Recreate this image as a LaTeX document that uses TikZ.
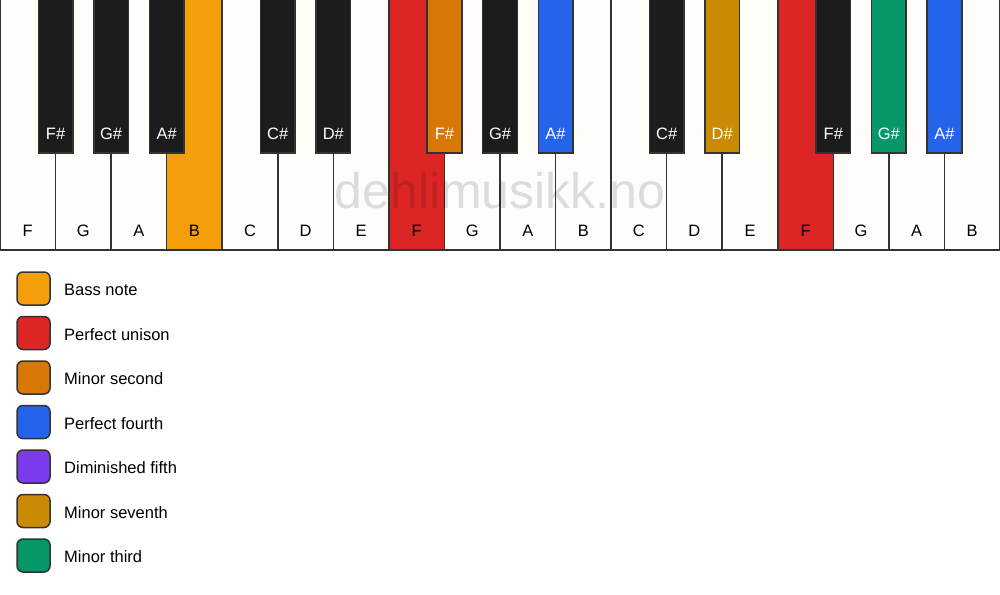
\documentclass[tikz,border=0pt]{standalone}
\usepackage{fontspec}
\setmainfont{Liberation Sans}
\definecolor{wkey}{HTML}{FFFDF9}
\definecolor{bkey}{HTML}{1C1C1C}
\definecolor{edge}{HTML}{333333}
\definecolor{cbass}{HTML}{F59E0B}
\definecolor{cuni}{HTML}{DC2626}
\definecolor{cmin2}{HTML}{D97706}
\definecolor{cp4}{HTML}{2563EB}
\definecolor{cdim5}{HTML}{7C3AED}
\definecolor{cmin7}{HTML}{CA8A04}
\definecolor{cmin3}{HTML}{059669}
\tikzset{
  whitekey/.style={draw=edge, line width=1.5pt, fill=wkey},
  blackkey/.style={draw=edge, line width=1.5pt, fill=bkey},
  wlabel/.style={font=\fontsize{16.5}{16.5}\selectfont, text=black},
  blabel/.style={font=\fontsize{16.5}{16.5}\selectfont, text=white},
  legbox/.style={draw=edge, line width=1.5pt, rounded corners=6pt, minimum width=33pt, minimum height=33pt, inner sep=0pt},
  legtext/.style={font=\fontsize{16.5}{16.5}\selectfont, anchor=west, inner sep=0pt},
}
\begin{document}
\begin{tikzpicture}[x=1pt,y=-1pt]
\useasboundingbox (0,0) rectangle (1000,594);
\fill[white] (0,0) rectangle (1000,594);
\def\W{55.5556}
% white keys
\foreach \i/\n/\c in {0/F/wkey,1/G/wkey,2/A/wkey,3/B/cbass,4/C/wkey,5/D/wkey,6/E/wkey,7/F/cuni,8/G/wkey,9/A/wkey,10/B/wkey,11/C/wkey,12/D/wkey,13/E/wkey,14/F/cuni,15/G/wkey,16/A/wkey,17/B/wkey}{
  \path[whitekey, fill=\c] (\i*\W,-2) rectangle ({(\i+1)*\W},250);
  \node[wlabel] (w\i) at ({(\i+0.5)*\W},230.5) {\n};
}
% black keys
\foreach \i/\n/\c in {1/F\#/bkey,2/G\#/bkey,3/A\#/bkey,5/C\#/bkey,6/D\#/bkey,8/F\#/cmin2,9/G\#/bkey,10/A\#/cp4,12/C\#/bkey,13/D\#/cmin7,15/F\#/bkey,16/G\#/cmin3,17/A\#/cp4}{
  \path[blackkey, fill=\c] ({\i*\W-17.3},-2) rectangle ({\i*\W+17.3},153);
  \node[blabel] (b\i) at ({\i*\W},133.5) {\n};
}
% watermark
\node[anchor=base, inner sep=0pt, text=black, opacity=0.13, font=\fontsize{50}{50}\selectfont] (wm) at (500,208) {dehlimusikk.no};
% legend
\foreach \k/\c/\t in {0/cbass/Bass note,1/cuni/Perfect unison,2/cmin2/Minor second,3/cp4/Perfect fourth,4/cdim5/Diminished fifth,5/cmin7/Minor seventh,6/cmin3/Minor third}{
  \node[legbox, fill=\c] (lb\k) at (33.5,{288.5+44.5*\k}) {};
  \node[legtext] (lt\k) at (64,{290+44.5*\k}) {\t};
}
\end{tikzpicture}
\end{document}
